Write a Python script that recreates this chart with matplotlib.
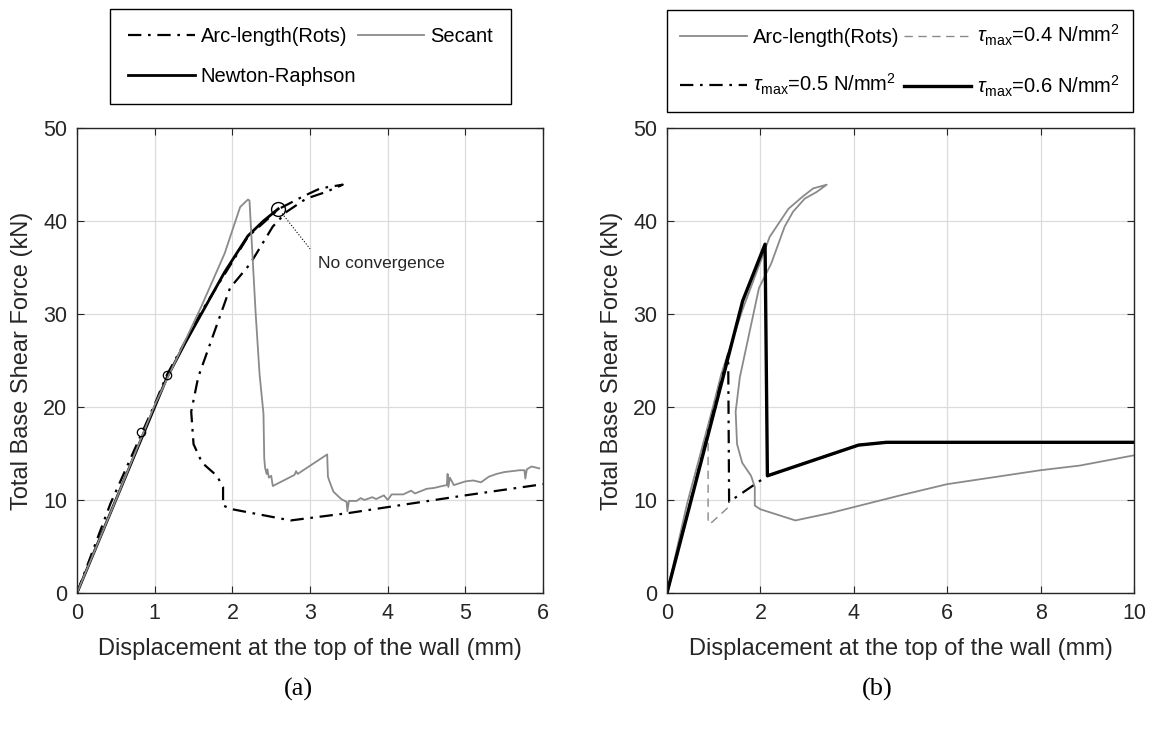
import matplotlib
matplotlib.use("Agg")
import matplotlib.pyplot as plt

plt.rcParams['font.family'] = ['Liberation Sans', 'DejaVu Sans']
plt.rcParams['mathtext.fontset'] = 'custom'
plt.rcParams['mathtext.rm'] = 'Liberation Sans'
plt.rcParams['mathtext.it'] = 'Liberation Sans:italic'

# ---- data (displacement mm, base shear kN) ----
nr_x = [0, 0.5, 1.0, 1.16, 1.4, 1.62, 1.9, 2.2, 2.4, 2.59]
nr_y = [0, 10, 20, 23.2, 27, 30.3, 34.5, 38.4, 40, 41.3]

arc_x = [0, 0.43, 1.0, 1.16, 1.62, 2.2, 2.6, 2.9, 3.13, 3.42, 3.2, 2.95, 2.7, 2.52,
         2.23, 1.97, 1.56, 1.47, 1.5, 1.61, 1.8, 1.88, 1.88, 2.0, 2.75, 3.5, 4.13,
         5.0, 6.0, 8.0, 8.84, 10.0]
arc_y = [0, 9.6, 20.3, 23.5, 30.5, 38.3, 41.3, 42.6, 43.5, 43.9, 43.1, 42.4, 41.0, 39.4,
         35.4, 32.8, 23.2, 19.5, 16, 14.0, 12.6, 11.4, 9.4, 9.0, 7.8, 8.6, 9.4,
         10.5, 11.7, 13.2, 13.7, 14.8]

sec_x = [0, 0.5, 1.0, 1.3, 1.6, 1.9, 2.1, 2.2, 2.22, 2.3, 2.35, 2.4, 2.41, 2.42, 2.44,
         2.45, 2.47, 2.5, 2.52, 2.8, 2.82, 2.84, 3.22, 3.23, 3.25, 3.3, 3.4, 3.47, 3.48,
         3.5, 3.6, 3.65, 3.7, 3.8, 3.85, 3.95, 4.0, 4.05, 4.2, 4.3, 4.35, 4.5, 4.6, 4.7,
         4.76, 4.77, 4.78, 4.8, 4.85, 5.0, 5.1, 5.2, 5.3, 5.4, 5.5, 5.6, 5.7, 5.76, 5.77,
         5.79, 5.85, 5.95]
sec_y = [0, 10, 20.2, 25.5, 30.8, 36.5, 41.5, 42.3, 42.2, 30, 23.5, 19.3, 14.5, 13.5, 12.8,
         13.3, 12.4, 12.6, 11.5, 12.7, 13.1, 12.8, 14.9, 12.5, 12.0, 10.9, 10.1, 9.8, 8.8,
         9.9, 9.9, 10.2, 10.0, 10.3, 10.1, 10.5, 10.0, 10.6, 10.6, 11.0, 10.7, 11.2, 11.3, 11.5,
         11.6, 12.8, 11.4, 12.4, 11.6, 12.0, 12.1, 11.9, 12.5, 12.8, 13.0, 13.1, 13.2, 13.2, 12.3,
         13.3, 13.6, 13.4]

mark_x = [0.82, 1.16]
mark_y = [17.3, 23.4]
nc_x, nc_y = 2.59, 41.3

t4_x = [0, 0.88, 0.88, 0.96, 1.31]
t4_y = [0, 17.5, 7.5, 7.6, 9.2]
t5_x = [0, 1.31, 1.31, 1.33, 2.15, 4.1, 4.7, 10]
t5_y = [0, 25.7, 25.7, 9.8, 12.6, 15.9, 16.2, 16.2]
t6_x = [0, 1.18, 1.62, 2.1, 2.15, 4.1, 4.7, 10]
t6_y = [0, 22.8, 31.4, 37.5, 12.6, 15.9, 16.2, 16.2]

gray = '#8a8a8a'
txt = '#262626'
dashdot = (0, (6, 3, 1.2, 3))

fig = plt.figure(figsize=(11.51, 7.37), dpi=100)
axa = fig.add_axes([0.0669, 0.1954, 0.405, 0.631])
axb = fig.add_axes([0.5795, 0.1954, 0.4057, 0.631])

# (a)
la, = axa.plot(arc_x, arc_y, color='k', lw=1.6, ls=dashdot, label='Arc-length(Rots)')
lb, = axa.plot(nr_x, nr_y, color='k', lw=2.0, label='Newton-Raphson')
lc, = axa.plot(sec_x, sec_y, color=gray, lw=1.3, label='Secant')
axa.plot(mark_x, mark_y, 'o', mfc='none', mec='k', ms=6, mew=0.9)
axa.plot([nc_x], [nc_y], 'o', mfc='none', mec='k', ms=10, mew=1.0)
axa.plot([nc_x + 0.05, 3.0], [nc_y - 0.5, 37.0], color='k', lw=0.8, ls=':')
axa.text(3.1, 35.4, 'No convergence', fontsize=12.5, color=txt, va='center')
axa.set_xlim(0, 6)
axa.set_xticks(range(0, 7))

# (b)
lb1, = axb.plot(arc_x, arc_y, color=gray, lw=1.3, label='Arc-length(Rots)')
lb2, = axb.plot(t4_x, t4_y, color=gray, lw=1.0, ls=(0, (6, 4)), label=r'$\tau_{\mathrm{max}}$=0.4 N/mm$^2$')
lb3, = axb.plot(t5_x, t5_y, color='k', lw=1.6, ls=dashdot, label=r'$\tau_{\mathrm{max}}$=0.5 N/mm$^2$')
lb4, = axb.plot(t6_x, t6_y, color='k', lw=2.4, label=r'$\tau_{\mathrm{max}}$=0.6 N/mm$^2$')
axb.set_xlim(0, 10)
axb.set_xticks(range(0, 11, 2))

for ax in (axa, axb):
    ax.set_ylim(0, 50)
    ax.set_yticks(range(0, 51, 10))
    ax.grid(True, color='#dcdcdc', lw=0.9)
    ax.set_axisbelow(True)
    ax.tick_params(direction='in', top=True, right=True, labelsize=15.5, colors=txt,
                   length=5, pad=7)
    for s in ax.spines.values():
        s.set_color(txt)
        s.set_linewidth(1.0)
    ax.set_xlabel('Displacement at the top of the wall (mm)', fontsize=17, color=txt, labelpad=10)
    ax.set_ylabel('Total Base Shear Force (kN)', fontsize=17, color=txt, labelpad=7)

leg_a = axa.legend(handles=[la, lb, lc], ncol=2, loc='upper center', mode='expand',
                   bbox_to_anchor=(0.0956, 0.8575, 0.3484, 0.1303), bbox_transform=fig.transFigure,
                   borderaxespad=0, fontsize=14.5, handlelength=3.3, handletextpad=0.3,
                   labelspacing=1.05, borderpad=0.9,
                   fancybox=False, edgecolor='k', framealpha=1)
leg_a.get_frame().set_linewidth(1.0)
leg_b = axb.legend(handles=[lb1, lb3, lb2, lb4], ncol=2, loc='upper center', mode='expand',
                   bbox_to_anchor=(0.5795, 0.8548, 0.4049, 0.1316), bbox_transform=fig.transFigure,
                   borderaxespad=0, fontsize=14.5, handlelength=3.3, handletextpad=0.3,
                   labelspacing=1.25, borderpad=0.65,
                   fancybox=False, edgecolor='k', framealpha=1)
leg_b.get_frame().set_linewidth(1.0)

fig.text(0.259, 0.064, '(a)', family='Liberation Serif', fontsize=19, ha='center', va='center')
fig.text(0.762, 0.064, '(b)', family='Liberation Serif', fontsize=19, ha='center', va='center')

fig.savefig('out.png', dpi=100)
